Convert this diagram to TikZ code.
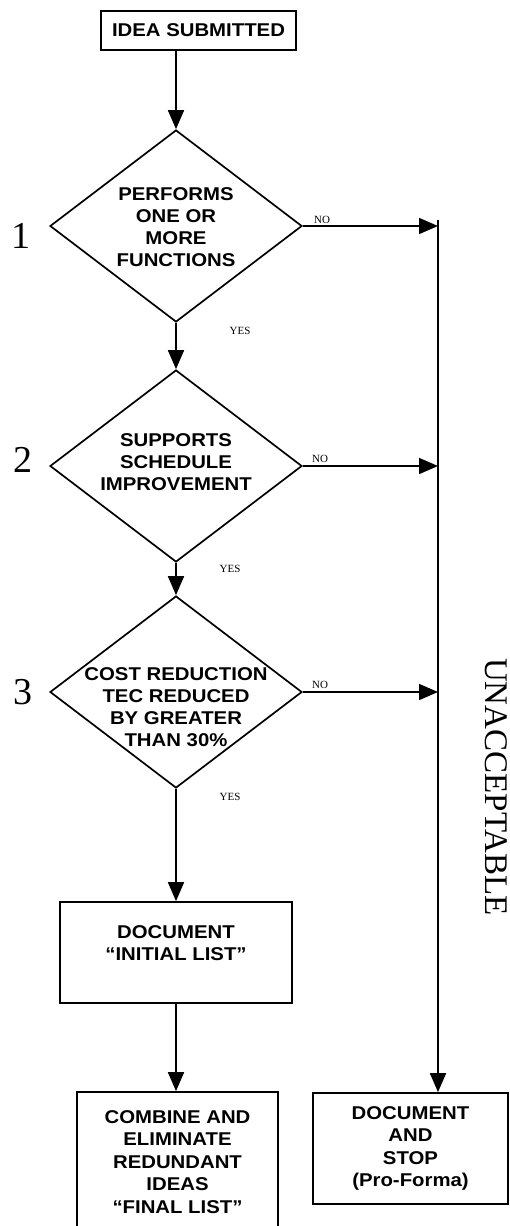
\documentclass[tikz,border=0pt]{standalone}
\usepackage{fontspec}
\setmainfont{Liberation Serif}
\newfontfamily\flowfont{Liberation Sans}[FakeStretch=1.1]
\usetikzlibrary{shapes.geometric,arrows.meta}
\tikzset{
  dia/.style={
    draw,
    diamond,
    line width=1.7pt,
    inner sep=0pt,
    minimum width=252pt,
    minimum height=192pt,
  },
  rect/.style={
    draw,
    rectangle,
    line width=1.7pt,
    align=center,
    font=\flowfont\bfseries\fontsize{18.5}{22.5}\selectfont,
  },
  qtext/.style={
    align=center,
    font=\flowfont\bfseries\fontsize{18.5}{22}\selectfont,
  },
  num/.style={
    font=\fontsize{38}{38}\selectfont,
  },
  lbl/.style={
    font=\fontsize{11}{11}\selectfont,
  },
  arr/.style={
    line width=1.7pt,
    -{Triangle[length=19pt,width=16pt]},
  },
}

\begin{document}
\begin{tikzpicture}[x=1pt,y=-1pt]
  \useasboundingbox (0,0) rectangle (510,1226);

  % boxes and decisions
  \node[rect,minimum width=195pt,minimum height=39pt] (idea) at (198.5,30.5) {IDEA SUBMITTED};
  \node[dia] (d1) at (176,226) {};
  \node[qtext] (t1) at (176,227) {PERFORMS\\ONE OR\\MORE\\FUNCTIONS};
  \node[dia] (d2) at (176,466) {};
  \node[qtext] (t2) at (176,462) {SUPPORTS\\SCHEDULE\\IMPROVEMENT};
  \node[dia] (d3) at (176,692) {};
  \node[qtext] (t3) at (176,707) {COST REDUCTION\\TEC REDUCED\\BY GREATER\\THAN 30\%};
  \node[rect,minimum width=232pt,minimum height=101pt] (init) at (176,952.5)
    {DOCUMENT\\“INITIAL LIST”\\[-4pt]~};
  \node[rect,minimum width=201pt,minimum height=140pt] (final) at (177.5,1162)
    {COMBINE AND\\ELIMINATE\\REDUNDANT\\IDEAS\\“FINAL LIST”};
  \node[rect,minimum width=195pt,minimum height=111pt] (stop) at (410.5,1148.5)
    {DOCUMENT\\AND\\STOP\\(Pro-Forma)};

  % step numbers
  \node[num] (n1) at (21,236) {1};
  \node[num] (n2) at (23,460) {2};
  \node[num] (n3) at (23,692) {3};

  % reject line
  \coordinate (top) at (438,220);
  \node[font=\fontsize{33}{33}\selectfont,rotate=-90] (unacc) at (496,787) {UNACCEPTABLE};

  % yes path
  \draw[arr] (idea.south -| d1.north) -- (d1.north);
  \draw[arr] (d1.south) -- (d2.north);
  \draw[arr] (d2.south) -- (d3.north);
  \draw[arr] (d3.south) -- (init.north);
  \draw[arr] (init.south) -- (final.north -| init.south);
  \node[lbl] (y1) at (240,331) {YES};
  \node[lbl] (y2) at (230,569) {YES};
  \node[lbl] (y3) at (230,797) {YES};

  % no path
  \draw[arr] (d1.east) -- (d1.east -| top);
  \draw[arr] (d2.east) -- (d2.east -| top);
  \draw[arr] (d3.east) -- (d3.east -| top);
  \draw[arr] (top) -- (top |- stop.north);
  \node[lbl] (no1) at (322,220) {NO};
  \node[lbl] (no2) at (320,459) {NO};
  \node[lbl] (no3) at (320,685) {NO};
\end{tikzpicture}
\end{document}
